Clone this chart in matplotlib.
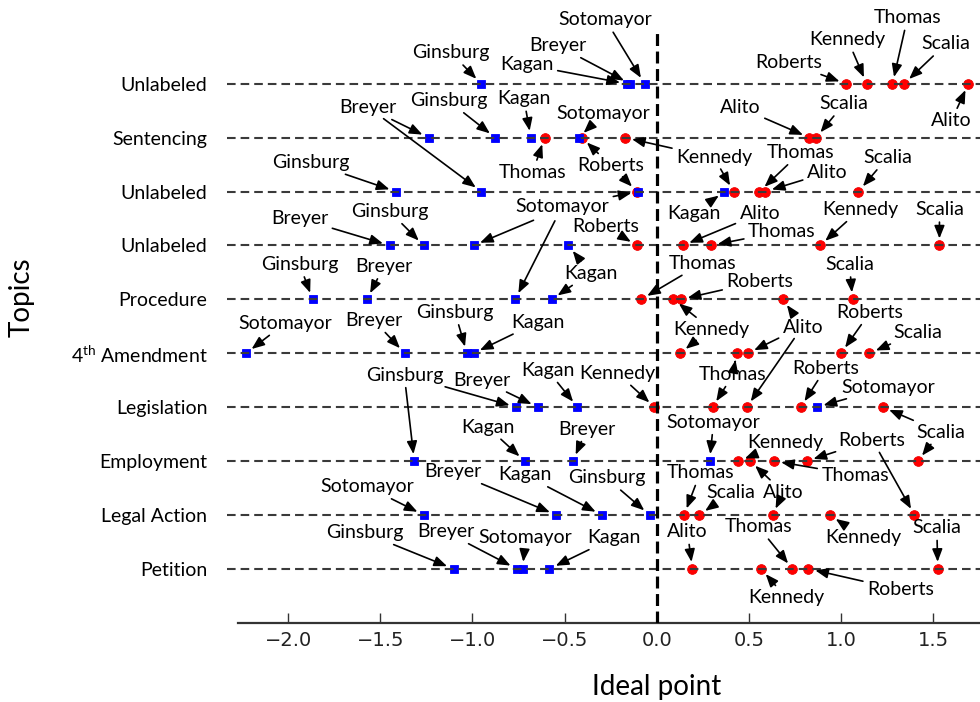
import numpy as np
import matplotlib
matplotlib.use("Agg")
import matplotlib.pyplot as plt

plt.rcParams['font.family'] = ['Lato', 'DejaVu Sans']
plt.rcParams['mathtext.fontset'] = 'custom'
plt.rcParams['mathtext.rm'] = 'Lato'
plt.rcParams['mathtext.default'] = 'regular'
plt.rcParams['lines.scale_dashes'] = False

# ---------------- data ----------------
topics = ["Unlabeled", "Sentencing", "Unlabeled", "Unlabeled", "Procedure",
          r"4$^{\mathrm{th}}$ Amendment", "Legislation", "Employment",
          "Legal Action", "Petition"]

liberals = ["Ginsburg", "Breyer", "Sotomayor", "Kagan"]
conservatives = ["Roberts", "Scalia", "Kennedy", "Thomas", "Alito"]

# ideal points, one per topic (top to bottom)
ginsburg  = [-0.953, -0.876, -1.415, -1.265, -1.868, -1.030, -0.762, -1.316, -0.039, -1.103]
breyer    = [-0.144, -1.238, -0.952, -1.450, -1.573, -1.368, -0.645, -0.455, -0.545, -0.760]
sotomayor = [-0.066, -0.424, -0.100, -0.994, -0.768, -2.229,  0.869,  0.287, -1.265, -0.728]
kagan     = [-0.162, -0.683,  0.368, -0.479, -0.569, -0.994, -0.430, -0.717, -0.298, -0.582]
roberts   = [ 1.028, -0.406, -0.108, -0.108,  0.131,  1.001,  0.782,  0.815,  1.399,  0.824]
scalia    = [ 1.343,  0.865,  1.095,  1.535,  1.063,  1.155,  1.227,  1.417,  0.232,  1.526]
kennedy   = [ 1.140, -0.171,  0.417,  0.887,  0.091,  0.128, -0.012,  0.444,  0.941,  0.567]
thomas    = [ 1.280, -0.609,  0.558,  0.294, -0.084,  0.435,  0.303,  0.638,  0.149,  0.737]
alito     = [ 1.692,  0.829,  0.589,  0.142,  0.685,  0.495,  0.489,  0.507,  0.629,  0.194]

values = {"Ginsburg": ginsburg, "Breyer": breyer, "Sotomayor": sotomayor,
          "Kagan": kagan, "Roberts": roberts, "Scalia": scalia,
          "Kennedy": kennedy, "Thomas": thomas, "Alito": alito}

xtick_values = [-2.0, -1.5, -1.0, -0.5, 0.0, 0.5, 1.0, 1.5]

# ---------------- label layout (pixel offsets of label centre) ----------------
label_offsets = {
    "Ginsburg":  [(-30, 31), (-47, 37), (-85, 29), (-34, 34), (-13, 35), (-12, 41),
                  (-112, 32), (-10, 86), (-43, 37), (-89, 36)],
    "Breyer":    [(-72, 38), (-61, 30), (-114, 85), (-90, 27), (17, 33), (-31, 33),
                  (-56, 27), (14, 32), (-103, 43), (-71, 37)],
    "Sotomayor": [(-39, 64), (25, 24), (-76, -15), (88, 37), (46, 91), (39, 30),
                  (71, 20), (4, 39), (-56, 28), (3, 31)],
    "Kagan":     [(-100, 19), (-7, 39), (-31, -22), (22, -28), (38, 26), (64, 31),
                  (-30, 37), (-37, 34), (-77, 40), (64, 31)],
    "Roberts":   [(-57, 21), (29, -28), (-26, 27), (-31, 19), (79, 18), (29, 41),
                  (25, 39), (65, 21), (-42, 75), (92, -21)],
    "Scalia":    [(42, 40), (28, 34), (29, 34), (0, 36), (-3, 35), (48, 21),
                  (58, -25), (23, 29), (31, 22), (-1, 41)],
    "Kennedy":   [(-19, 44), (89, -20), (-20, 35), (40, 36), (38, -30), (31, 25),
                  (-37, 34), (47, 19), (33, -23), (25, -29)],
    "Thomas":    [(15, 66), (-12, -35), (41, 39), (71, 14), (61, 36), (-4, -21),
                  (21, 33), (81, -14), (16, 42), (-34, 42)],
    "Alito":     [(-17, -37), (-69, 30), (62, 19), (77, 32), (20, -28), (55, 27),
                  (56, 81), (33, -31), (11, 23), (-5, 37)],
}

# ---------------- figure ----------------
W, H = 980, 702
fig = plt.figure(figsize=(W / 100, H / 100), dpi=100)
ax_left, ax_right, ax_bottom, ax_top = 238, 1075.4, 622.7, -24.0
ax = fig.add_axes([ax_left / W, (H - ax_bottom) / H,
                   (ax_right - ax_left) / W, (ax_bottom - ax_top) / H])
ax.set_xlim(-2.273, 2.273)
ax.set_ylim(0, 12)

n = len(topics)
ypos = np.arange(n, 0, -1)  # 10 .. 1

# markers
for name in conservatives:
    ax.plot(values[name], ypos, 'o', color='#ff0000', mec='#ee0000', ms=7.0,
            mew=0.6, zorder=2, clip_on=False)
for name in liberals:
    ax.plot(values[name], ypos, 's', color='#0000ff', mec='#0000ff', ms=6.0,
            mew=0.6, zorder=2.1, clip_on=False)

# dashed topic lines
for y in ypos:
    ax.plot([-2.335, 2.273], [y, y], color='#3a3a3a', lw=1.5,
            dashes=(6.2, 3.6), zorder=3, clip_on=False)

# vertical zero line
ax.plot([0, 0], [0, 11], color='black', lw=2.3, dashes=(8.6, 4.0), zorder=3)

# annotations (a shared label is written once, its extra arrows are still drawn)
trans = ax.transData
drawn = {}
for name in liberals + conservatives:
    for r in range(n):
        dx, dy = label_offsets[name][r]
        px, py = trans.transform((values[name][r], ypos[r]))
        lx, ly = px + dx, py + dy
        dup = any(abs(lx - qx) < 14 and abs(ly - qy) < 14
                  for qx, qy in drawn.get(name, []))
        drawn.setdefault(name, []).append((lx, ly))
        ax.annotate(name, xy=(values[name][r], ypos[r]), xytext=(dx, dy),
                    textcoords='offset pixels', ha='center', va='center',
                    fontsize=14, color='none' if dup else 'black', zorder=5,
                    annotation_clip=False,
                    arrowprops=dict(arrowstyle='-|>,head_length=0.55,head_width=0.22',
                                    color='black', lw=1.2, shrinkA=1, shrinkB=5))

# axes styling
for s in ['left', 'top', 'right']:
    ax.spines[s].set_visible(False)
ax.spines['bottom'].set_color('#333333')
ax.spines['bottom'].set_linewidth(1.6)

ax.set_yticks(ypos)
ax.set_yticklabels(topics, fontsize=14)
ax.tick_params(axis='y', length=0, pad=22)

ax.set_xticks(xtick_values)
ax.set_xticklabels([f"{v:.1f}".replace('-', '\u2212') for v in xtick_values])
ax.tick_params(axis='x', direction='in', length=7, width=1, color='#333333',
               labelsize=14, pad=6, labelfontfamily='DejaVu Sans', labelcolor='#222222')

fig.text(656.7 / W, 1 - 687 / H, 'Ideal point', ha='center', va='center', fontsize=20)
fig.text(22 / W, 1 - 297 / H, 'Topics', ha='center', va='center', rotation=90, fontsize=20)

fig.savefig('out.png', dpi=100)
